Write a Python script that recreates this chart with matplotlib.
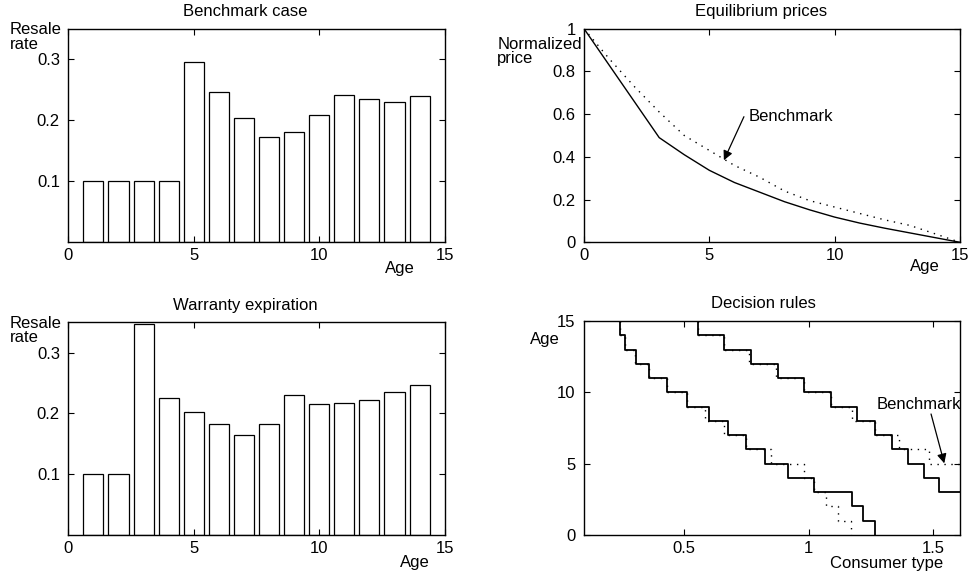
import numpy as np
import matplotlib.pyplot as plt
from matplotlib.ticker import FormatStrFormatter

plt.rcParams['font.family'] = ['Liberation Sans', 'DejaVu Sans']
plt.rcParams['font.size'] = 12

# resale rates by age
ages = np.arange(1, 15)
resale_bench = [0.1, 0.1, 0.1, 0.1, 0.295, 0.247, 0.203, 0.173, 0.180, 0.208, 0.242, 0.234, 0.230, 0.239]
resale_warr = [0.1, 0.1, 0.348, 0.225, 0.203, 0.182, 0.164, 0.183, 0.230, 0.215, 0.218, 0.222, 0.235, 0.247]

# equilibrium prices
price_age = np.arange(0, 16)
price_warr = [1.0, 0.83, 0.66, 0.49, 0.41, 0.337, 0.28, 0.235, 0.19, 0.152, 0.118, 0.09, 0.066, 0.044, 0.022, 0.0]
price_bench = [1.0, 0.86, 0.73, 0.61, 0.50, 0.43, 0.36, 0.305, 0.24, 0.195, 0.165, 0.135, 0.105, 0.079, 0.04, 0.0]

# decision rules (consumer type thresholds per age)
low_ages = list(range(15, -1, -1))
low_warr = [0.244, 0.244, 0.264, 0.308, 0.361, 0.433, 0.513, 0.601, 0.679, 0.748, 0.827, 0.917, 1.02, 1.175, 1.22, 1.268]
low_bench = [0.244, 0.244, 0.264, 0.305, 0.361, 0.433, 0.513, 0.585, 0.66, 0.748, 0.851, 0.98, 1.02, 1.071, 1.117, 1.171]
high_ages_w = [15, 14, 13, 12, 11, 10, 9, 8, 7, 6, 5, 4, 3, 3]
high_warr = [0.557, 0.557, 0.661, 0.768, 0.877, 0.981, 1.088, 1.193, 1.268, 1.333, 1.397, 1.461, 1.524, 1.607]
high_ages_b = [15, 14, 13, 12, 11, 10, 9, 8, 7, 6, 5, 5]
high_bench = [0.557, 0.557, 0.661, 0.76, 0.871, 0.981, 1.088, 1.175, 1.268, 1.364, 1.484, 1.607]

fig = plt.figure(figsize=(9.69, 5.75), dpi=100)
ax1 = fig.add_axes([0.0705, 0.5786, 0.3884, 0.3715])
ax2 = fig.add_axes([0.6027, 0.5786, 0.3880, 0.3715])
ax3 = fig.add_axes([0.0705, 0.0696, 0.3884, 0.3699])
ax4 = fig.add_axes([0.6027, 0.0696, 0.3880, 0.3722])

for ax in [ax1, ax2, ax3, ax4]:
    ax.tick_params(direction='in', top=True, right=True, length=4, width=0.8,
                   labelsize=12, pad=6)
    ax.tick_params(axis='x', pad=4)
    for s in ax.spines.values():
        s.set_linewidth(1.0)

arrow = dict(arrowstyle='-|>', color='black', lw=0.9, mutation_scale=14,
             shrinkA=0, shrinkB=0)

# bar panels
for ax, vals, title in [(ax1, resale_bench, 'Benchmark case'),
                        (ax3, resale_warr, 'Warranty expiration')]:
    ax.bar(ages, vals, width=0.8, color='white', edgecolor='black', linewidth=0.9)
    ax.set_xlim(0, 15)
    ax.set_ylim(0, 0.35)
    ax.set_xticks([0, 5, 10, 15])
    ax.set_yticks([0.1, 0.2, 0.3])
    ax.yaxis.set_major_formatter(FormatStrFormatter('%g'))
    ax.set_title(title, x=0.47, pad=9, fontsize=12)
    ax.text(-0.155, 1.03, 'Resale\nrate', transform=ax.transAxes, ha='left',
            va='top', linespacing=0.95)
ax1.text(0.881, -0.142, 'Age', transform=ax1.transAxes, ha='center', va='baseline')
ax3.text(0.921, -0.149, 'Age', transform=ax3.transAxes, ha='center', va='baseline')

# prices
ax2.plot(price_age, price_bench, color='black', lw=1.0, linestyle=(0, (1, 4)))
ax2.plot(price_age, price_warr, color='black', lw=1.0)
ax2.set_xlim(0, 15)
ax2.set_ylim(0, 1)
ax2.set_xticks([0, 5, 10, 15])
ax2.set_yticks([0, 0.2, 0.4, 0.6, 0.8, 1])
ax2.yaxis.set_major_formatter(FormatStrFormatter('%g'))
ax2.set_title('Equilibrium prices', x=0.472, pad=9, fontsize=12)
ax2.text(-0.231, 0.962, 'Normalized\nprice', transform=ax2.transAxes, ha='left',
         va='top', linespacing=0.95)
ax2.text(0.906, -0.133, 'Age', transform=ax2.transAxes, ha='center', va='baseline')
ax2.annotate('', xy=(5.58, 0.384), xytext=(6.38, 0.588), arrowprops=arrow)
ax2.text(6.55, 0.591, 'Benchmark', ha='left', va='center')

# decision rules
ax4.step(low_bench, low_ages, where='post', color='black', lw=1.0, linestyle=(0, (1, 4)))
ax4.step(high_bench, high_ages_b, where='post', color='black', lw=1.0, linestyle=(0, (1, 4)))
ax4.step(low_warr, low_ages, where='post', color='black', lw=1.3)
ax4.step(high_warr, high_ages_w, where='post', color='black', lw=1.3)
ax4.set_xlim(0.1, 1.607)
ax4.set_ylim(0, 15)
ax4.set_xticks([0.5, 1, 1.5])
ax4.set_yticks([0, 5, 10, 15])
ax4.xaxis.set_major_formatter(FormatStrFormatter('%g'))
ax4.set_title('Decision rules', x=0.477, pad=9, fontsize=12)
ax4.text(-0.104, 0.891, 'Age', transform=ax4.transAxes, ha='center', va='baseline')
ax4.text(0.805, -0.156, 'Consumer type', transform=ax4.transAxes, ha='center', va='baseline')
ax4.annotate('', xy=(1.544, 5.02), xytext=(1.491, 8.48), arrowprops=arrow)
ax4.text(1.273, 9.16, 'Benchmark', ha='left', va='center')

fig.savefig('out.png', dpi=100)
